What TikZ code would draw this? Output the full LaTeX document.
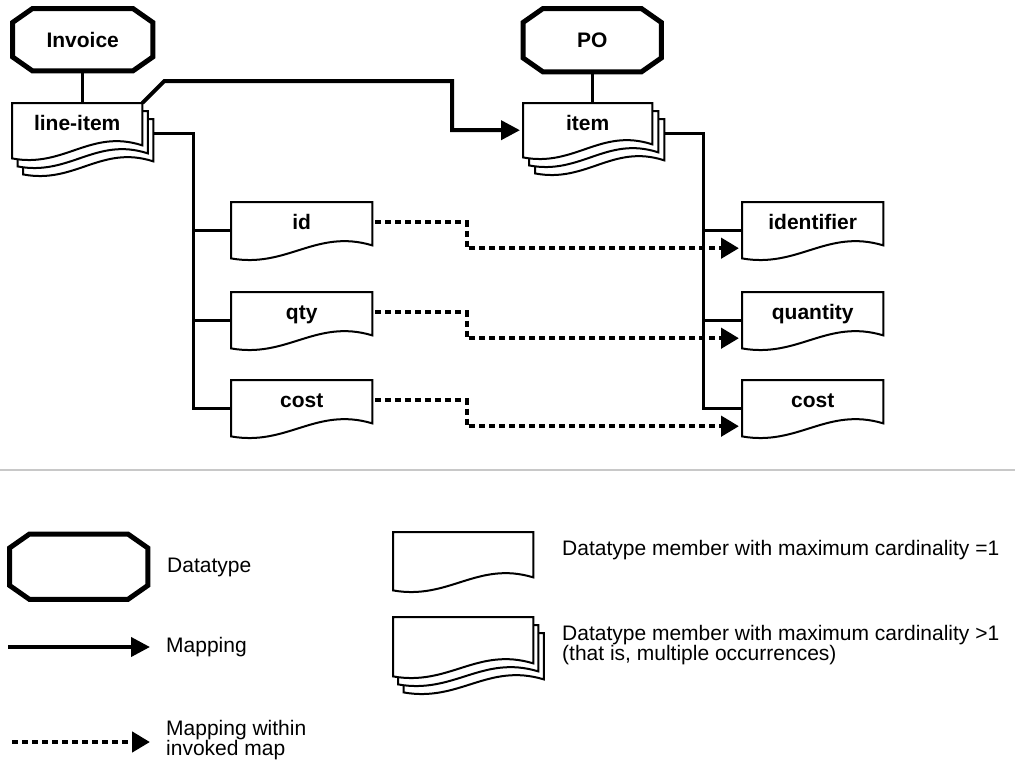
\documentclass[tikz,border=0pt]{standalone}
\usepackage{fontspec}
\setmainfont{Liberation Sans}
\usetikzlibrary{arrows.meta,calc,backgrounds}
\definecolor{sepgray}{RGB}{200,200,200}
\newcommand\octagon[1]{\draw[octline] ($(#1.north west)+(20pt,0pt)$) -- ($(#1.north east)+(-20pt,0pt)$) -- ($(#1.north east)+(0pt,-14pt)$) -- ($(#1.south east)+(0pt,14pt)$) -- ($(#1.south east)+(-20pt,0pt)$) -- ($(#1.south west)+(20pt,0pt)$) -- ($(#1.south west)+(0pt,14pt)$) -- ($(#1.north west)+(0pt,-14pt)$) -- cycle;}
\newcommand\docsheet[3]{%
  \draw[docline] ($(#1.south west)+(#2,#3)$) -- ($(#1.north west)+(#2,#3)$) -- ($(#1.north east)+(#2,#3)$) -- ($(#1.south east)+(#2,{#3+13pt})$)
   .. controls ($(#1.south west)!0.6!(#1.south east)+(#2,{#3+30pt})$) and ($(#1.south west)!0.4!(#1.south east)+(#2,{#3-10pt})$) .. ($(#1.south west)+(#2,#3)$) -- cycle;}
\tikzset{
  lbl/.style={font=\fontsize{21}{21}\selectfont\bfseries},
  txt/.style={font=\fontsize{21}{19.5}\selectfont, align=left, anchor=west, inner sep=0pt},
  docnode/.style={rectangle, inner sep=0pt, anchor=north west, text height=27pt, lbl},
  octnode/.style={rectangle, inner sep=0pt, anchor=north west, lbl},
  octline/.style={line width=5pt, line join=miter},
  docline/.style={line width=2pt, fill=white, line join=miter},
  tree/.style={line width=3pt},
  map/.style={line width=4pt, -{Triangle[length=19pt,width=19pt]}},
  dotmap/.style={line width=4.5pt, dash pattern=on 6pt off 4pt, -{Triangle[length=18pt,width=20pt]}},
}
\begin{document}
\begin{tikzpicture}[x=1pt,y=-1pt]
\useasboundingbox (0,0) rectangle (1015,764);
% datatypes
\node[octnode, minimum width=140pt, minimum height=62pt] (inv) at (12.5,8.5) {Invoice};
\node[octnode, minimum width=138pt, minimum height=63pt] (po) at (523,8.5) {PO};
\octagon{inv}
\octagon{po}
% members
\node[docnode, minimum width=130pt, text depth=28pt] (li) at (12,103) {line-item};
\node[docnode, minimum width=129pt, text depth=27pt] (it) at (523,103) {item};
\node[docnode, minimum width=141pt, text depth=29pt] (id) at (231,202) {id};
\node[docnode, minimum width=141pt, text depth=29pt] (qty) at (231,292) {qty};
\node[docnode, minimum width=141pt, text depth=29pt] (lcost) at (231,380) {cost};
\node[docnode, minimum width=141pt, text depth=29pt] (ident) at (742,202) {identifier};
\node[docnode, minimum width=141pt, text depth=29pt] (quant) at (742,292) {quantity};
\node[docnode, minimum width=141pt, text depth=29pt] (rcost) at (742,380) {cost};
% legend nodes
\node[octnode, minimum width=138pt, minimum height=65pt] (legoct) at (9.5,534) {};
\octagon{legoct}
\node[txt] (legoctt) at (167,567) {Datatype};
\node[docnode, minimum width=140pt, text depth=31pt] (legd1) at (393,532) {};
\node[docnode, minimum width=140pt, text depth=32pt] (legd2) at (393,617) {};
\node[txt] (legd1t) at (562,550) {Datatype member with maximum cardinality =1};
\node[txt] (legd2t) at (562,645) {Datatype member with maximum cardinality >1\\(that is, multiple occurrences)};
\node[txt] (mapt) at (166,647) {Mapping};
\node[txt] (dmapt) at (166,740) {Mapping within\\invoked map};
% sheets
\begin{scope}[on background layer]
  \docsheet{li}{11pt}{-16pt}
  \docsheet{li}{5.5pt}{-8pt}
  \docsheet{li}{0pt}{0pt}
  \docsheet{it}{12pt}{-16pt}
  \docsheet{it}{6pt}{-8pt}
  \docsheet{it}{0pt}{0pt}
  \docsheet{id}{0pt}{0pt}
  \docsheet{qty}{0pt}{0pt}
  \docsheet{lcost}{0pt}{0pt}
  \docsheet{ident}{0pt}{0pt}
  \docsheet{quant}{0pt}{0pt}
  \docsheet{rcost}{0pt}{0pt}
  \docsheet{legd1}{0pt}{0pt}
  \docsheet{legd2}{10.5pt}{-16pt}
  \docsheet{legd2}{5pt}{-8pt}
  \docsheet{legd2}{0pt}{0pt}
\end{scope}
% connectors
\coordinate (lx) at (193,0);
\coordinate (rx) at (703,0);
\coordinate (dx) at (467,0);
\coordinate (mb) at (452,81);
\draw[tree] (inv.south) -- (inv.south |- li.north);
\draw[tree] (po.south) -- (po.south |- it.north);
\draw[tree] ($(li.east)+(11pt,-2.5pt)$) -| (lx |- lcost.west) -- (lcost.west);
\draw[tree] (lx |- id.west) -- (id.west);
\draw[tree] (lx |- qty.west) -- (qty.west);
\draw[tree] ($(it.east)+(12pt,-3pt)$) -| (rx |- rcost.west) -- (rcost.west);
\draw[tree] (rx |- ident.west) -- (ident.west);
\draw[tree] (rx |- quant.west) -- (quant.west);
\draw[map, shorten >=3pt] (li.north east) -- ++(22,-22) -- (mb) |- (it.west);
\foreach \a/\b in {id/ident,qty/quant,lcost/rcost}{
  \path ($(\a.east)+(3pt,8pt)$) coordinate (s) ($(\b.west)+(-3pt,-18pt)$) coordinate (t);
  \draw[dotmap] (s) -- (s -| dx) |- (t);
}
% separator
\coordinate (sl) at (0,470);
\coordinate (sr) at (1015,470);
\draw[line width=2pt, sepgray] (sl) -- (sr);
% legend arrows
\coordinate (m1) at (8,647);
\coordinate (m2) at (150,647);
\coordinate (d1) at (12,742);
\coordinate (d2) at (150,742);
\draw[map] (m1) -- (m2);
\draw[dotmap] (d1) -- (d2);
\end{tikzpicture}
\end{document}
